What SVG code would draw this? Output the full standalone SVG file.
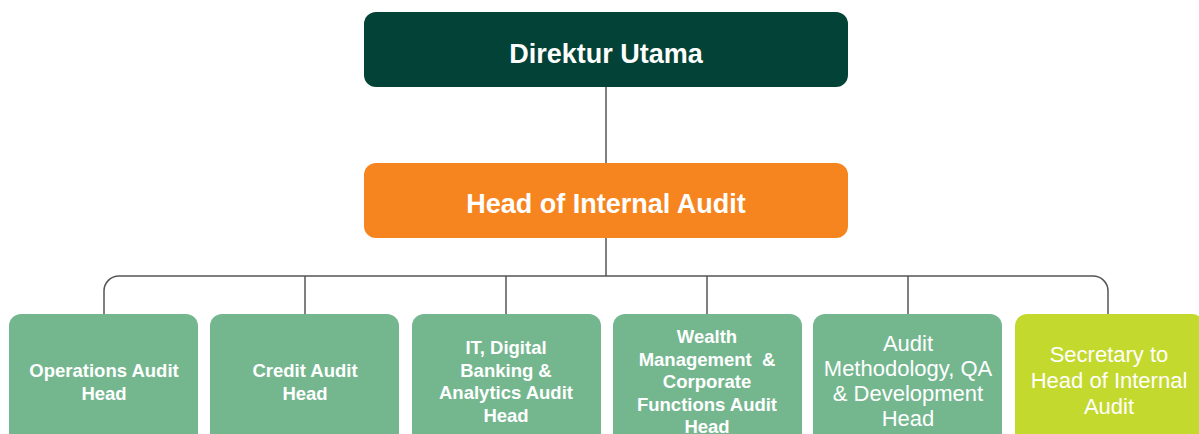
<svg xmlns="http://www.w3.org/2000/svg" width="1199" height="434" viewBox="0 0 1199 434">
<style>
.t{font-family:"Liberation Sans",Arial,sans-serif;fill:#fff;text-anchor:middle}
.top{font-size:27px;font-weight:bold}
.s{font-size:18.5px;font-weight:bold}
.r{font-size:22px}
.con{fill:none;stroke:#555;stroke-width:1.5}
</style>
<rect width="1199" height="434" fill="#fff"/>
<g id="connectors">
<path class="con" d="M606 87V163"/>
<path class="con" d="M606 238V276"/>
<path class="con" d="M104 314V291A15 15 0 0 1 119 276H1093A15 15 0 0 1 1108 291V314"/>
<path class="con" d="M305 276V314M506 276V314M707 276V314M908 276V314"/>
</g>
<g id="direktur-utama">
<rect x="364" y="12" width="484" height="75" rx="12" fill="#034236"/>
<text class="t top" x="606" y="63">Direktur Utama</text>
</g>
<g id="head-internal-audit">
<rect x="364" y="163" width="484" height="75" rx="12" fill="#F7851F"/>
<text class="t top" x="606" y="213">Head of Internal Audit</text>
</g>
<g id="operations-audit-head">
<rect x="9" y="314" width="189" height="140" rx="12" fill="#74B78F"/>
<text class="t s" x="104" y="377">Operations Audit</text>
<text class="t s" x="104" y="399.5">Head</text>
</g>
<g id="credit-audit-head">
<rect x="210" y="314" width="189" height="140" rx="12" fill="#74B78F"/>
<text class="t s" x="305" y="377">Credit Audit</text>
<text class="t s" x="305" y="399.5">Head</text>
</g>
<g id="it-digital-audit-head">
<rect x="412" y="314" width="189" height="140" rx="12" fill="#74B78F"/>
<text class="t s" x="506" y="354">IT, Digital</text>
<text class="t s" x="506" y="376.5">Banking &amp;</text>
<text class="t s" x="506" y="399">Analytics Audit</text>
<text class="t s" x="506" y="421.5">Head</text>
</g>
<g id="wealth-corporate-audit-head">
<rect x="613" y="314" width="189" height="140" rx="12" fill="#74B78F"/>
<text class="t s" x="707" y="343">Wealth</text>
<text class="t s" x="707" y="365.5" xml:space="preserve">Management  &amp;</text>
<text class="t s" x="707" y="388">Corporate</text>
<text class="t s" x="707" y="410.5">Functions Audit</text>
<text class="t s" x="707" y="433">Head</text>
</g>
<g id="audit-methodology-head">
<rect x="813" y="314" width="189" height="140" rx="12" fill="#74B78F"/>
<text class="t r" x="908" y="350.5">Audit</text>
<text class="t r" x="908" y="375.5">Methodology, QA</text>
<text class="t r" x="908" y="400.5">&amp; Development</text>
<text class="t r" x="908" y="425.5">Head</text>
</g>
<g id="secretary-head-internal-audit">
<rect x="1015" y="314" width="189" height="140" rx="12" fill="#C3D92D"/>
<text class="t r" x="1109" y="362">Secretary to</text>
<text class="t r" x="1109" y="388">Head of Internal</text>
<text class="t r" x="1109" y="414">Audit</text>
</g>
</svg>
